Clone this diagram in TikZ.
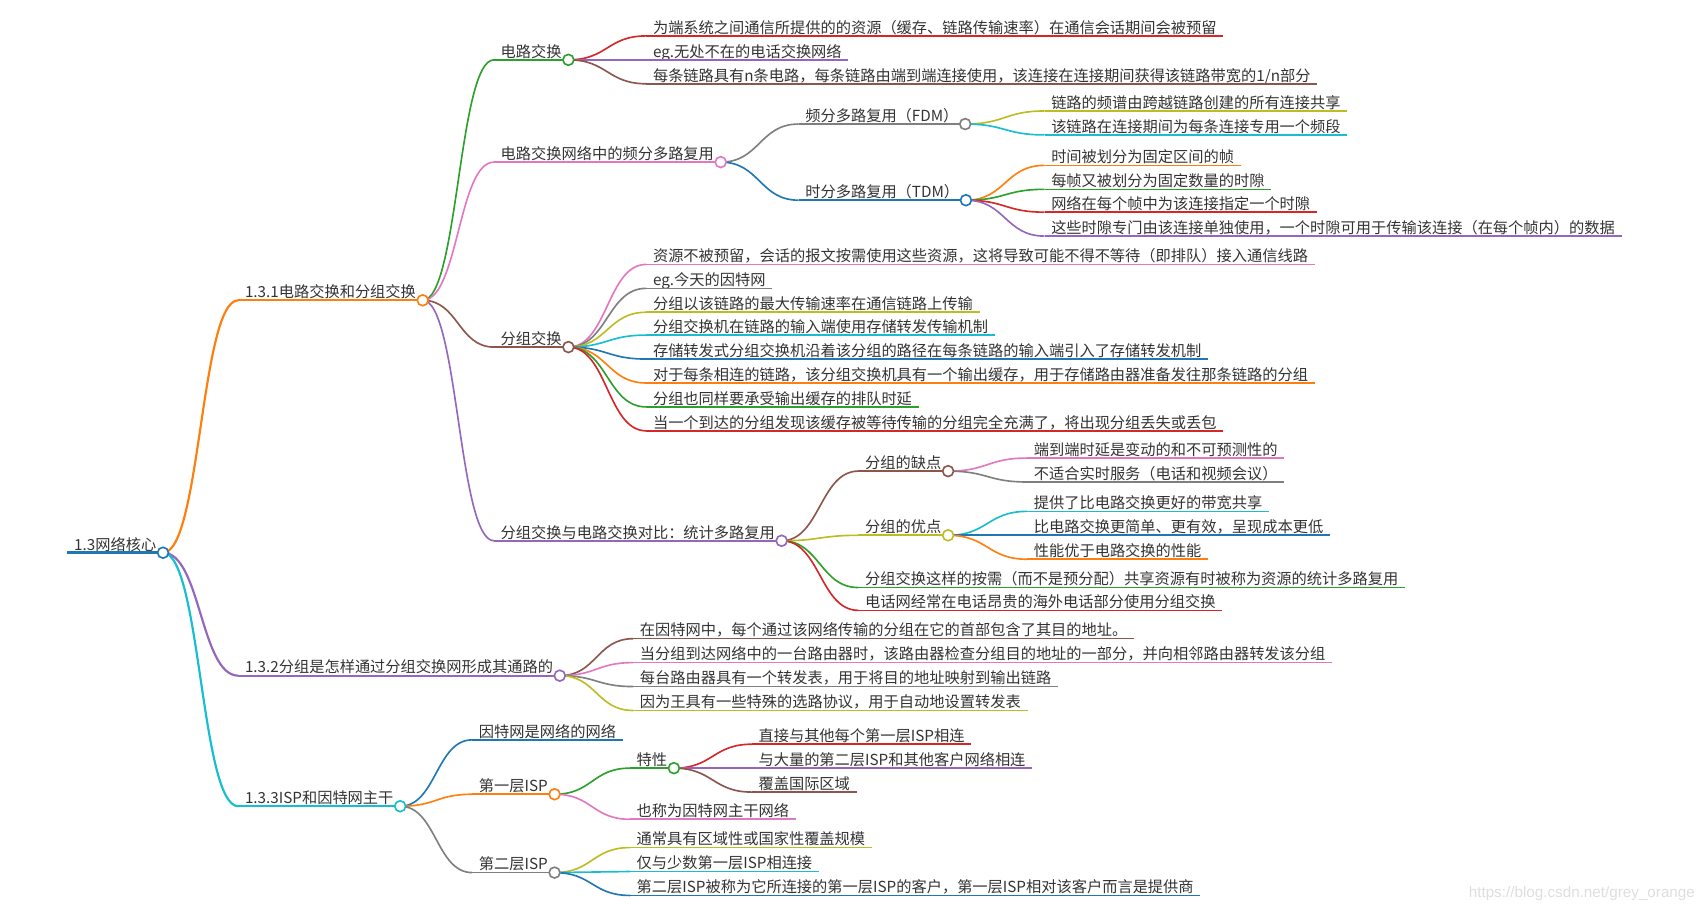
\documentclass[tikz,border=0pt]{standalone}
\usepackage{fontspec}
\setmainfont{Noto Sans CJK SC}
\newfontfamily\wmfont{Liberation Sans}
\usetikzlibrary{calc}
\definecolor{cA}{HTML}{1F77B4}
\definecolor{cB}{HTML}{FF7F0E}
\definecolor{cC}{HTML}{2CA02C}
\definecolor{cD}{HTML}{D62728}
\definecolor{cE}{HTML}{9467BD}
\definecolor{cF}{HTML}{8C564B}
\definecolor{cG}{HTML}{E377C2}
\definecolor{cH}{HTML}{7F7F7F}
\definecolor{cI}{HTML}{BCBD22}
\definecolor{cJ}{HTML}{17BECF}
\definecolor{txtc}{HTML}{333333}
\tikzset{
  txt/.style={font=\fontsize{14}{16}\selectfont, text=txtc, inner sep=0pt, anchor=base west},
  dot/.style={circle, draw, fill=white, line width=1.5pt, minimum size=10pt, inner sep=0pt},
}
% name, line-start x, line y, colour, text, line width
\newcommand{\mm}[6]{%
  \node[txt] (#1) at (#2+6,#3-2.5) {#5};
  \coordinate (#1-s) at (#2,#3);
  \coordinate (#1-e) at ($(#1.base east)+(6,2.5)$);
  \draw[line width=#6pt,#4] (#1-s) -- (#1-e);
}
\newcommand{\lk}[4]{% from, to, colour, width
  \draw[line width=#4pt,#3] let \p1=(#1-e), \p2=(#2-s) in (\p1) .. controls ({(\x1+\x2)/2},\y1) and ({(\x1+\x2)/2},\y2) .. (\p2);
}
\newcommand{\dt}[2]{\node[dot,draw=#2] (#1-c) at (#1-e) {};}
\begin{document}
\begin{tikzpicture}[x=1pt,y=-1pt]
\useasboundingbox (0,0) rectangle (1568,836);
% root
\mm{R}{62}{508}{cA}{1.3网络核心}{2.8}
% level 1
\mm{A}{219}{276}{cB}{1.3.1电路交换和分组交换}{2}
\mm{B}{219}{621}{cE}{1.3.2分组是怎样通过分组交换网形成其通路的}{2}
\mm{C}{219}{741}{cJ}{1.3.3ISP和因特网主干}{2}
% A
\mm{Aa}{454}{55}{cC}{电路交换}{1.5}
\mm{Aaa}{594}{33}{cD}{为端系统之间通信所提供的的资源（缓存、链路传输速率）在通信会话期间会被预留}{1.5}
\mm{Aab}{594}{55}{cE}{eg.无处不在的电话交换网络}{1.5}
\mm{Aac}{594}{77}{cF}{每条链路具有n条电路，每条链路由端到端连接使用，该连接在连接期间获得该链路带宽的1/n部分}{1.5}
\mm{Ab}{454}{149}{cG}{电路交换网络中的频分多路复用}{1.5}
\mm{Aba}{734}{114}{cH}{频分多路复用（FDM）}{1.5}
\mm{Abaa}{960}{102}{cI}{链路的频谱由跨越链路创建的所有连接共享}{1.5}
\mm{Abab}{960}{124}{cJ}{该链路在连接期间为每条连接专用一个频段}{1.5}
\mm{Abb}{734}{184}{cA}{时分多路复用（TDM）}{1.5}
\mm{Abba}{960}{152}{cB}{时间被划分为固定区间的帧}{1.5}
\mm{Abbb}{960}{174}{cC}{每帧又被划分为固定数量的时隙}{1.5}
\mm{Abbc}{960}{195}{cD}{网络在每个帧中为该连接指定一个时隙}{1.5}
\mm{Abbd}{960}{217}{cE}{这些时隙专门由该连接单独使用，一个时隙可用于传输该连接（在每个帧内）的数据}{1.5}
\mm{Ac}{454}{319}{cF}{分组交换}{1.5}
\mm{Aca}{594}{243}{cG}{资源不被预留，会话的报文按需使用这些资源，这将导致可能不得不等待（即排队）接入通信线路}{1.5}
\mm{Acb}{594}{265}{cH}{eg.今天的因特网}{1.5}
\mm{Acc}{594}{287}{cI}{分组以该链路的最大传输速率在通信链路上传输}{1.5}
\mm{Acd}{594}{308}{cJ}{分组交换机在链路的输入端使用存储转发传输机制}{1.5}
\mm{Ace}{594}{330}{cA}{存储转发式分组交换机沿着该分组的路径在每条链路的输入端引入了存储转发机制}{1.5}
\mm{Acf}{594}{352}{cB}{对于每条相连的链路，该分组交换机具有一个输出缓存，用于存储路由器准备发往那条链路的分组}{1.5}
\mm{Acg}{594}{374}{cC}{分组也同样要承受输出缓存的排队时延}{1.5}
\mm{Ach}{594}{396}{cD}{当一个到达的分组发现该缓存被等待传输的分组完全充满了，将出现分组丢失或丢包}{1.5}
\mm{Ad}{454}{497}{cE}{分组交换与电路交换对比：统计多路复用}{1.5}
\mm{Ada}{789}{433}{cF}{分组的缺点}{1.5}
\mm{Adaa}{944}{421}{cG}{端到端时延是变动的和不可预测性的}{1.5}
\mm{Adab}{944}{443}{cH}{不适合实时服务（电话和视频会议）}{1.5}
\mm{Adb}{789}{492}{cI}{分组的优点}{1.5}
\mm{Adba}{944}{470}{cJ}{提供了比电路交换更好的带宽共享}{1.5}
\mm{Adbb}{944}{492}{cA}{比电路交换更简单、更有效，呈现成本更低}{1.5}
\mm{Adbc}{944}{514}{cB}{性能优于电路交换的性能}{1.5}
\mm{Adc}{789}{540}{cC}{分组交换这样的按需（而不是预分配）共享资源有时被称为资源的统计多路复用}{1.5}
\mm{Add}{789}{561}{cD}{电话网经常在电话昂贵的海外电话部分使用分组交换}{1.5}
% B
\mm{Ba}{582}{587}{cF}{在因特网中，每个通过该网络传输的分组在它的首部包含了其目的地址。}{1.5}
\mm{Bb}{582}{609}{cG}{当分组到达网络中的一台路由器时，该路由器检查分组目的地址的一部分，并向相邻路由器转发该分组}{1.5}
\mm{Bc}{582}{631}{cH}{每台路由器具有一个转发表，用于将目的地址映射到输出链路}{1.5}
\mm{Bd}{582}{653}{cI}{因为王具有一些特殊的选路协议，用于自动地设置转发表}{1.5}
% C
\mm{Ca}{434}{680}{cA}{因特网是网络的网络}{1.5}
\mm{Cb}{434}{730}{cB}{第一层ISP}{1.5}
\mm{Cba}{579}{706}{cC}{特性}{1.5}
\mm{Cbaa}{691}{684}{cD}{直接与其他每个第一层ISP相连}{1.5}
\mm{Cbab}{691}{706}{cE}{与大量的第二层ISP和其他客户网络相连}{1.5}
\mm{Cbac}{691}{728}{cF}{覆盖国际区域}{1.5}
\mm{Cbb}{579}{753}{cG}{也称为因特网主干网络}{1.5}
\mm{Cc}{434}{802}{cH}{第二层ISP}{1.5}
\mm{Cca}{579}{779}{cI}{通常具有区域性或国家性覆盖规模}{1.5}
\mm{Ccb}{579}{801}{cJ}{仅与少数第一层ISP相连接}{1.5}
\mm{Ccc}{579}{823}{cA}{第二层ISP被称为它所连接的第一层ISP的客户，第一层ISP相对该客户而言是提供商}{1.5}
% links
\lk{R}{A}{cB}{2}\lk{R}{B}{cE}{2}\lk{R}{C}{cJ}{2}
\lk{A}{Aa}{cC}{1.5}\lk{A}{Ab}{cG}{1.5}\lk{A}{Ac}{cF}{1.5}\lk{A}{Ad}{cE}{1.5}
\lk{Aa}{Aaa}{cD}{1.5}\lk{Aa}{Aab}{cE}{1.5}\lk{Aa}{Aac}{cF}{1.5}
\lk{Ab}{Aba}{cH}{1.5}\lk{Ab}{Abb}{cA}{1.5}
\lk{Aba}{Abaa}{cI}{1.5}\lk{Aba}{Abab}{cJ}{1.5}
\lk{Abb}{Abba}{cB}{1.5}\lk{Abb}{Abbb}{cC}{1.5}\lk{Abb}{Abbc}{cD}{1.5}\lk{Abb}{Abbd}{cE}{1.5}
\lk{Ac}{Aca}{cG}{1.5}\lk{Ac}{Acb}{cH}{1.5}\lk{Ac}{Acc}{cI}{1.5}\lk{Ac}{Acd}{cJ}{1.5}
\lk{Ac}{Ace}{cA}{1.5}\lk{Ac}{Acf}{cB}{1.5}\lk{Ac}{Acg}{cC}{1.5}\lk{Ac}{Ach}{cD}{1.5}
\lk{Ad}{Ada}{cF}{1.5}\lk{Ad}{Adb}{cI}{1.5}\lk{Ad}{Adc}{cC}{1.5}\lk{Ad}{Add}{cD}{1.5}
\lk{Ada}{Adaa}{cG}{1.5}\lk{Ada}{Adab}{cH}{1.5}
\lk{Adb}{Adba}{cJ}{1.5}\lk{Adb}{Adbb}{cA}{1.5}\lk{Adb}{Adbc}{cB}{1.5}
\lk{B}{Ba}{cF}{1.5}\lk{B}{Bb}{cG}{1.5}\lk{B}{Bc}{cH}{1.5}\lk{B}{Bd}{cI}{1.5}
\lk{C}{Ca}{cA}{1.5}\lk{C}{Cb}{cB}{1.5}\lk{C}{Cc}{cH}{1.5}
\lk{Cb}{Cba}{cC}{1.5}\lk{Cb}{Cbb}{cG}{1.5}
\lk{Cba}{Cbaa}{cD}{1.5}\lk{Cba}{Cbab}{cE}{1.5}\lk{Cba}{Cbac}{cF}{1.5}
\lk{Cc}{Cca}{cI}{1.5}\lk{Cc}{Ccb}{cJ}{1.5}\lk{Cc}{Ccc}{cA}{1.5}
% circles
\dt{R}{cA}\dt{A}{cB}\dt{B}{cE}\dt{C}{cJ}
\dt{Aa}{cC}\dt{Ab}{cG}\dt{Aba}{cH}\dt{Abb}{cA}\dt{Ac}{cF}\dt{Ad}{cE}\dt{Ada}{cF}\dt{Adb}{cI}
\dt{Cb}{cB}\dt{Cba}{cC}\dt{Cc}{cH}
% watermark
\node[font=\wmfont\fontsize{14}{16}\selectfont, text=black!13, inner sep=0pt, anchor=base east] (wm) at (1558,825) {https://blog.csdn.net/grey\_orange};
\end{tikzpicture}
\end{document}
